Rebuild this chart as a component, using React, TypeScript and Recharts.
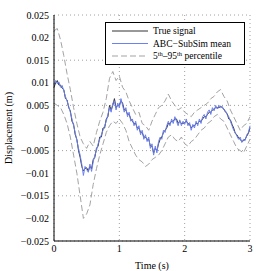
import React from "react";
import { LineChart, Line, XAxis, YAxis, CartesianGrid } from "recharts";

// values in mm (×1e-3 m), sampled every 0.025 s from 0 to 3 s
const meanValues = [
  9.5,
  10.5, 9.8, 10.2, 9.0,
  9.4, 8.2, 7.0, 6.0,
  4.8, 3.5, 2.0, 0.5,
  -1.0, -2.8, -4.5, -6.0,
  -8.0, -10.5, -8.5, -9.2,
  -9.8, -8.0, -9.6, -7.5,
  -6.0, -5.0, -3.5, -2.5,
  -1.5, -0.5, 0.5, 1.5,
  3.0, 4.5, 3.5, 5.5,
  6.0, 4.0, 5.5, 4.5,
  6.5, 5.0, 3.5, 4.5,
  2.5, 3.5, 1.5, 2.0,
  0.5, 1.5, -0.5, 0.5,
  -1.5, -0.5, -2.5, -1.5,
  -3.0, -2.0, -4.5, -3.5,
  -6.0, -4.0, -5.5, -3.0,
  -2.0, -2.5, -0.5, -1.0,
  0.5, 1.5, 0.5, 2.0,
  1.0, 2.5, 1.5, 0.5,
  1.8, 0.5, 1.5, 0.8,
  2.0, 0.5, 1.2, -0.5,
  0.8, 0.0, 1.5, 0.5,
  2.0, 1.0, 2.5, 3.0,
  2.0, 3.5, 4.0, 3.0,
  4.5, 3.8, 5.0, 4.2,
  5.0, 4.5, 4.8, 4.0,
  3.8, 3.0, 2.5, 1.5,
  0.5, -0.5, -1.0, -1.8,
  -2.5, -2.0, -3.2, -2.5,
  -2.8, -1.5, -1.0, 0.5,
];

const trueValues = [
  9.0,
  10.0, 10.5, 9.5, 9.5,
  8.8, 8.5, 6.5, 6.2,
  4.5, 3.8, 1.5, 0.8,
  -1.5, -2.5, -5.0, -6.5,
  -8.5, -9.5, -9.0, -8.8,
  -9.5, -8.5, -9.0, -7.0,
  -6.5, -4.5, -4.0, -2.0,
  -2.0, 0.0, 0.0, 2.0,
  2.5, 5.0, 4.0, 5.0,
  6.5, 4.5, 5.0, 5.0,
  6.0, 5.5, 4.0, 4.0,
  3.0, 3.0, 2.0, 1.5,
  1.0, 1.0, 0.0, 0.0,
  -1.0, -1.0, -2.0, -2.0,
  -2.5, -2.5, -4.0, -4.0,
  -5.5, -4.5, -5.0, -3.5,
  -2.5, -2.0, -1.0, -0.5,
  0.0, 1.0, 1.0, 1.5,
  1.5, 2.0, 2.0, 1.0,
  1.5, 1.0, 1.0, 1.2,
  1.5, 1.0, 0.8, 0.0,
  0.5, 0.5, 1.0, 1.0,
  1.5, 1.5, 2.0, 2.5,
  2.5, 3.0, 3.5, 3.5,
  4.0, 4.2, 4.5, 4.5,
  4.5, 4.8, 4.5, 4.2,
  3.5, 3.2, 2.0, 1.8,
  0.8, 0.0, -1.2, -1.5,
  -2.2, -2.5, -3.0, -2.8,
  -2.5, -1.8, -1.2, 0.0,
];

// percentile bands in mm, sampled every 0.05 s
const upperValues = [
  21.5, 22.0, 19.5, 16.0, 12.0, 8.5, 4.5, 1.0, -2.0, -3.5,
  -4.5, -3.0, -4.0, -1.0, 1.5, 3.5, 6.5, 11.0, 12.5, 10.5,
  11.5, 9.0, 8.0, 6.0, 4.5, 3.0, 3.5, 1.0, 0.5, -0.5,
  1.5, 3.0, 4.5, 5.0, 6.0, 7.5, 6.0, 5.0, 4.0, 4.5,
  3.5, 3.0, 2.5, 3.5, 4.0, 4.5, 5.0, 5.5, 6.5, 7.0,
  8.0, 8.5, 7.0, 6.0, 4.0, 2.5, 1.0, -0.5, 0.5, 1.0,
  2.5,
];

const lowerValues = [
  5.5, 5.0, 4.5, 3.0, 1.0, -2.0, -6.0, -10.0, -15.0, -20.0,
  -19.0, -17.0, -12.5, -9.0, -6.0, -3.5, -1.0, 0.5, 1.5, 1.0,
  2.0, 1.0, -0.5, -3.0, -4.5, -6.0, -7.0, -7.5, -8.5, -8.0,
  -7.0, -6.5, -6.0, -5.0, -3.5, -2.0, -1.5, -2.5, -3.0, -2.0,
  -3.5, -4.0, -3.0, -2.5, -1.5, -0.5, 0.0, 1.0, 1.5, 2.5,
  3.0, 2.0, 1.5, 0.0, -1.5, -3.0, -4.5, -5.0, -5.5, -4.0,
  -2.5,
];

const xTicks = [0, 1, 2, 3];
const xTickLabels = ["0", "1", "2", "3"];
const yTicks = [-0.025, -0.02, -0.015, -0.01, -0.005, 0, 0.005, 0.01, 0.015, 0.02, 0.025];
const yTickLabels = ["\u22120.025", "\u22120.02", "\u22120.015", "\u22120.01", "\u22120.005", "0", "0.005", "0.01", "0.015", "0.02", "0.025"];

const legendLabels = ["True signal", "ABC\u2212SubSim mean", "percentile"];

const toSeries = (vals: number[], step: number) =>
  vals.map((v, i) => ({ t: Math.round(i * step * 1000) / 1000, v: v / 1000 }));

const meanData = toSeries(meanValues, 0.025);
const trueData = toSeries(trueValues, 0.025);
const upperData = toSeries(upperValues, 0.05);
const lowerData = toSeries(lowerValues, 0.05);

const FONT = "'Liberation Serif', 'DejaVu Serif', serif";
const BLUE = "#6b80f2";
const GRAY = "#a3a3a3";

export default function App() {
  return (
    <div style={{ position: "absolute", left: 0, top: 0, width: 260, height: 271, background: "#fff", fontFamily: FONT }}>
      <LineChart width={260} height={271} margin={{ top: 15, right: 10, bottom: 0, left: 0 }}>
        <CartesianGrid stroke="#888" strokeDasharray="1 3" strokeWidth={0.8} horizontalValues={yTicks} verticalValues={xTicks} />
        <XAxis
          type="number"
          dataKey="t"
          domain={[0, 3]}
          ticks={xTicks}
          tickFormatter={(v: number) => xTickLabels[xTicks.indexOf(v)] ?? String(v)}
          height={30}
          axisLine={{ stroke: "#000", strokeWidth: 1 }}
          tickLine={false}
          tickSize={3}
          tickMargin={1}
          tick={{ fill: "#000", fontSize: 10, fontFamily: FONT }}
          allowDuplicatedCategory={false}
        />
        <YAxis
          type="number"
          domain={[-0.025, 0.025]}
          ticks={yTicks}
          tickFormatter={(v: number) => {
            const i = yTicks.findIndex((y) => Math.abs(y - v) < 1e-9);
            return i >= 0 ? yTickLabels[i] : String(v);
          }}
          width={54}
          axisLine={{ stroke: "#000", strokeWidth: 1 }}
          tickLine={false}
          tickSize={3}
          tickMargin={2}
          tick={{ fill: "#000", fontSize: 10, fontFamily: FONT }}
          allowDataOverflow
        />
        <Line data={upperData} dataKey="v" stroke={GRAY} strokeWidth={1} strokeDasharray="6 3" dot={false} isAnimationActive={false} />
        <Line data={lowerData} dataKey="v" stroke={GRAY} strokeWidth={1} strokeDasharray="6 3" dot={false} isAnimationActive={false} />
        <Line data={trueData} dataKey="v" stroke="#333" strokeWidth={1} dot={false} isAnimationActive={false} />
        <Line data={meanData} dataKey="v" stroke={BLUE} strokeWidth={1} dot={false} isAnimationActive={false} />
      </LineChart>
      <svg width={260} height={271} style={{ position: "absolute", left: 0, top: 0, pointerEvents: "none" }}>
        <text x={152} y={265} textAnchor="middle" dominantBaseline="central" fontSize={10} fontFamily={FONT} fill="#000">
          Time (s)
        </text>
        <text
          x={8}
          y={128}
          textAnchor="middle"
          dominantBaseline="central"
          fontSize={10}
          fontFamily={FONT}
          fill="#000"
          transform="rotate(-90 8 128)"
        >
          Displacement (m)
        </text>
        <g transform="translate(105,22)">
          <rect x={0.5} y={0.5} width={139} height={42} fill="#fff" stroke="#000" strokeWidth={1} />
          <line x1={7} x2={43} y1={9} y2={9} stroke="#333" strokeWidth={1} />
          <line x1={7} x2={43} y1={21.5} y2={21.5} stroke={BLUE} strokeWidth={1} />
          <line x1={7} x2={43} y1={34} y2={34} stroke={GRAY} strokeWidth={1} strokeDasharray="6 3" />
          <text x={48} y={9} dominantBaseline="central" fontSize={9.5} fontFamily={FONT} fill="#000">
            {legendLabels[0]}
          </text>
          <text x={48} y={21.5} dominantBaseline="central" fontSize={9.5} fontFamily={FONT} fill="#000">
            {legendLabels[1]}
          </text>
          <text x={48} y={37} fontSize={9.5} fontFamily={FONT} fill="#000">
            <tspan>5</tspan>
            <tspan dy={-3.5} fontSize={6.5}>th</tspan>
            <tspan dy={3.5}>{"\u201395"}</tspan>
            <tspan dy={-3.5} fontSize={6.5}>th</tspan>
            <tspan dy={3.5}>{" " + legendLabels[2]}</tspan>
          </text>
        </g>
      </svg>
    </div>
  );
}
